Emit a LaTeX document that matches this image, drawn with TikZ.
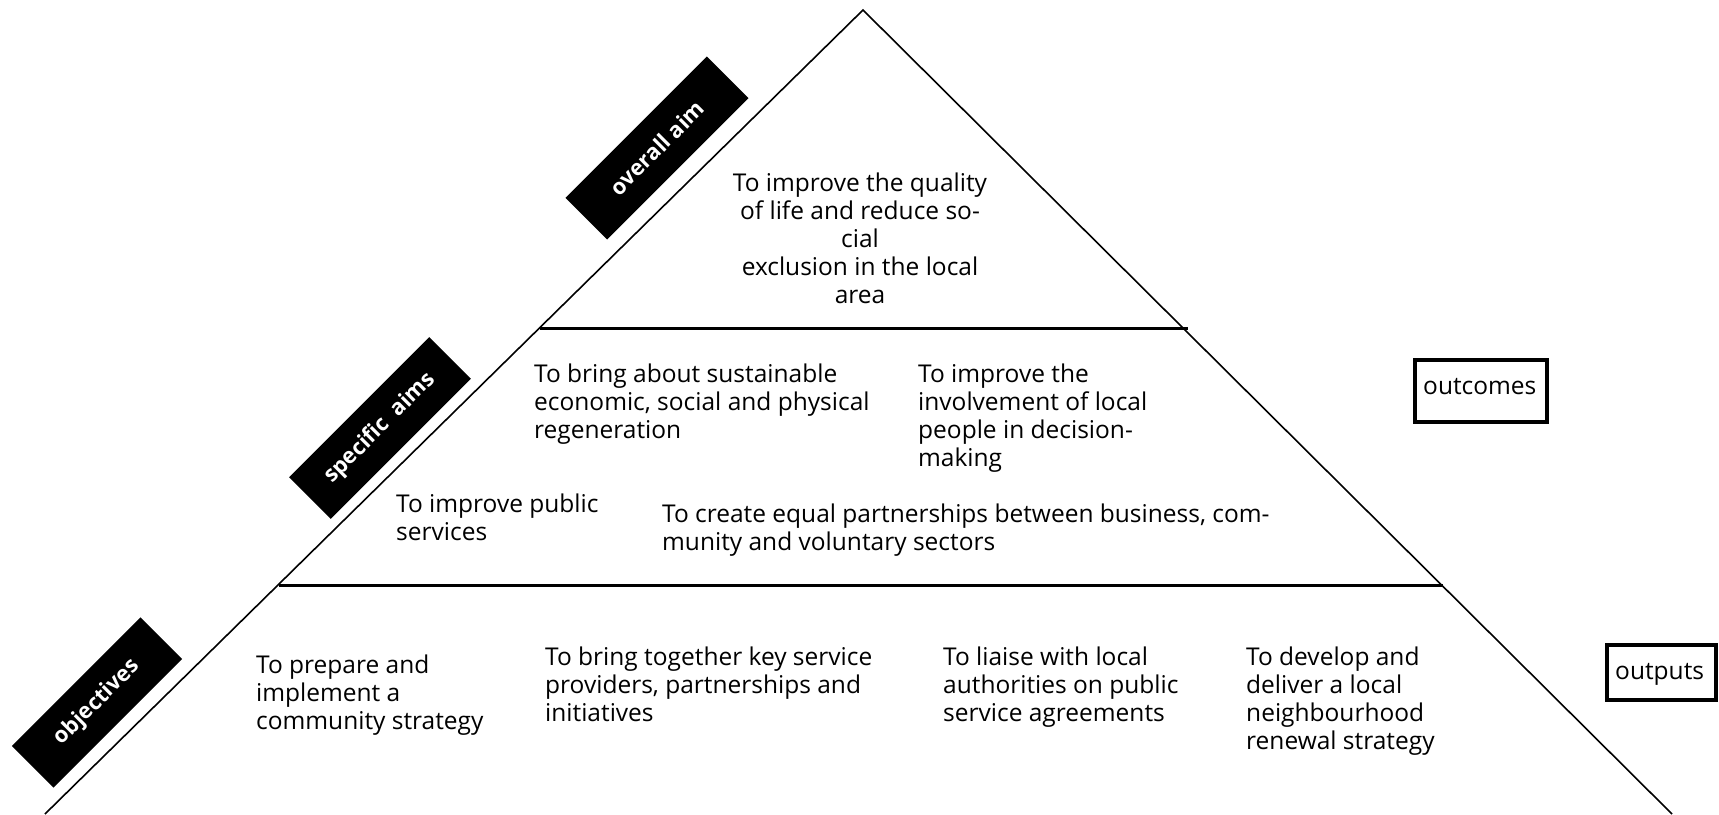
\documentclass[tikz,border=0pt]{standalone}
\usepackage{fontspec}
\setmainfont{Open Sans}
\newcommand\txtl[1]{\begin{tabular}[t]{@{}l@{}}#1\end{tabular}}
\newcommand\txtc[1]{\begin{tabular}[t]{@{}c@{}}#1\end{tabular}}
\begin{document}
\begin{tikzpicture}[x=1pt,y=-1pt,
  txt/.style={font=\fontsize{24.5}{28}\selectfont, inner sep=0pt, anchor=base west},
  side/.style={line width=1.6pt},
  tier/.style={line width=3pt},
  lab/.style={fill=black, text=white, rotate=45, inner sep=0pt,
    font=\bfseries\fontsize{22}{22}\selectfont, minimum height=59pt},
  frame/.style={draw, line width=4pt, inner sep=0pt}
]
\useasboundingbox (0,0) rectangle (1719,814);
% pyramid
\coordinate (apex) at (863,10);
\coordinate (bl) at (45,814);
\coordinate (br) at (1672,814);
\coordinate (l1a) at (540,328);
\coordinate (l1b) at (1188,328);
\coordinate (l2a) at (279,585);
\coordinate (l2b) at (1443,585);
\draw[side] (bl) -- (apex) -- (br);
\draw[tier] (l1a) -- (l1b);
\draw[tier] (l2a) -- (l2b);

% labels
\node[lab, minimum width=200pt] (oa) at (657,148) {overall aim};
\node[lab, minimum width=198pt] (sa) at (380,428) {specific\ \ aims};
\node[lab, minimum width=182pt] (ob) at (97,702.5) {objectives};

% top tier
\node[txt, anchor=base] (t0) at (860,191) {\txtc{To improve the quality\\of life and reduce so-\\cial\\exclusion in the local\\area}};

% middle tier
\node[txt] (m1) at (534,382) {\txtl{To bring about sustainable\\economic, social and physical\\regeneration}};
\node[txt] (m2) at (918,382) {\txtl{To improve the\\involvement of local\\people in decision-\\making}};
\node[txt] (m3) at (396,512) {\txtl{To improve public\\services}};
\node[txt] (m4) at (662,522) {\txtl{To create equal partnerships between business, com-\\munity and voluntary sectors}};

% bottom tier
\node[txt] (b1) at (256,673) {\txtl{To prepare and\\implement a\\community strategy}};
\node[txt] (b2) at (545,665) {\txtl{To bring together key service\\providers, partnerships and\\initiatives}};
\node[txt] (b3) at (943,665) {\txtl{To liaise with local\\authorities on public\\service agreements}};
\node[txt] (b4) at (1246,665) {\txtl{To develop and\\deliver a local\\neighbourhood\\renewal strategy}};

% side boxes
\node[frame, minimum width=132pt, minimum height=62pt] (outcf) at (1481,391) {};
\node[txt] (outc) at (1423,394) {outcomes};
\node[frame, minimum width=109pt, minimum height=55pt] (outpf) at (1661.5,672.5) {};
\node[txt] (outp) at (1615,679) {outputs};
\end{tikzpicture}
\end{document}
